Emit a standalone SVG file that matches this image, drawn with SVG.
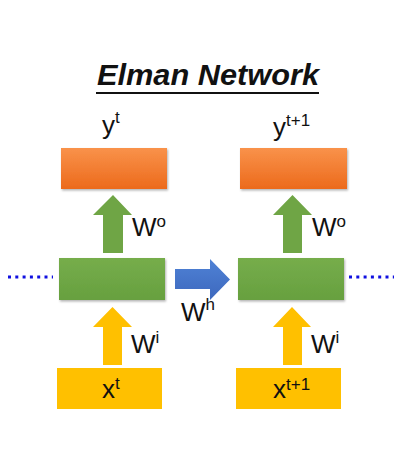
<svg xmlns="http://www.w3.org/2000/svg" width="410" height="457" viewBox="0 0 410 457">
<defs>
<linearGradient id="gOr" x1="0" y1="0" x2="0" y2="1"><stop offset="0" stop-color="#F9924A"/><stop offset="1" stop-color="#EC6A1C"/></linearGradient>
<linearGradient id="gGr" x1="0" y1="0" x2="0" y2="1"><stop offset="0" stop-color="#76AD4B"/><stop offset="1" stop-color="#67A03F"/></linearGradient>
<linearGradient id="gBl" x1="0" y1="0" x2="0" y2="1"><stop offset="0" stop-color="#4F82D6"/><stop offset="1" stop-color="#3D68BD"/></linearGradient>
<filter id="sh" x="-10%" y="-10%" width="125%" height="130%"><feDropShadow dx="1" dy="1.5" stdDeviation="1.2" flood-color="#000" flood-opacity="0.3"/></filter>
</defs>
<style>
.t{font-family:"Liberation Sans",Arial,sans-serif;fill:#111;font-size:26px}
.s{font-size:17px}
.title{font-family:"Liberation Sans",Arial,sans-serif;font-weight:bold;font-style:italic;font-size:30px;fill:#111}
.or{fill:url(#gOr);filter:url(#sh)}
.gr{fill:url(#gGr);filter:url(#sh)}
.ye{fill:#FFC000}
.dots{stroke:#1010E0;stroke-width:3;stroke-dasharray:3 4.3;stroke-linecap:butt}
</style>
<rect width="410" height="457" fill="#fff"/>
<g id="title">
<text class="title" x="97" y="85" textLength="222" lengthAdjust="spacingAndGlyphs">Elman Network</text>
<line x1="96" y1="93" x2="319" y2="93" stroke="#111" stroke-width="2"/>
</g>
<g id="y_t"><rect class="or" x="61" y="148" width="106" height="41"/><text class="t" x="102" y="134">y<tspan class="s" dy="-11">t</tspan></text></g>
<g id="y_t1"><rect class="or" x="240" y="148" width="107" height="41"/><text class="t" x="273" y="136">y<tspan class="s" dy="-10">t+1</tspan></text></g>
<g id="h_t"><rect class="gr" x="59" y="258" width="106" height="42"/></g>
<g id="h_t1"><rect class="gr" x="238" y="258" width="106" height="42"/></g>
<g id="x_t"><rect class="ye" x="57" y="368" width="105" height="41"/><text class="t" x="102" y="398">x<tspan class="s" dy="-9">t</tspan></text></g>
<g id="x_t1"><rect class="ye" x="236" y="368" width="105" height="41"/><text class="t" x="273" y="398">x<tspan class="s" dy="-8">t+1</tspan></text></g>
<g id="connectors">
<polygon fill="#6FA545" points="103,253 103,215 93,215 113,195 132,215 123,215 123,253"/>
<polygon fill="#6FA545" points="283,253 283,215 273,215 292.5,195 312,215 302,215 302,253"/>
<polygon class="ye" points="103,365 103,327 93,327 112.5,307 132,327 122,327 122,365"/>
<polygon class="ye" points="283,365 283,327 273,327 292,307 311,327 302,327 302,365"/>
<polygon fill="url(#gBl)" points="175,269 210,269 210,259 230,279.5 210,300 210,289 175,289"/>
<line class="dots" x1="8" y1="277" x2="53" y2="277"/>
<line class="dots" x1="349" y1="277" x2="394" y2="277"/>
<text class="t" x="132" y="236">W<tspan class="s" dy="-9">o</tspan></text>
<text class="t" x="312" y="236">W<tspan class="s" dy="-9">o</tspan></text>
<text class="t" x="181" y="321">W<tspan class="s" dy="-11">h</tspan></text>
<text class="t" x="131" y="353">W<tspan class="s" dy="-10">i</tspan></text>
<text class="t" x="311" y="353">W<tspan class="s" dy="-10">i</tspan></text>
</g>
</svg>
